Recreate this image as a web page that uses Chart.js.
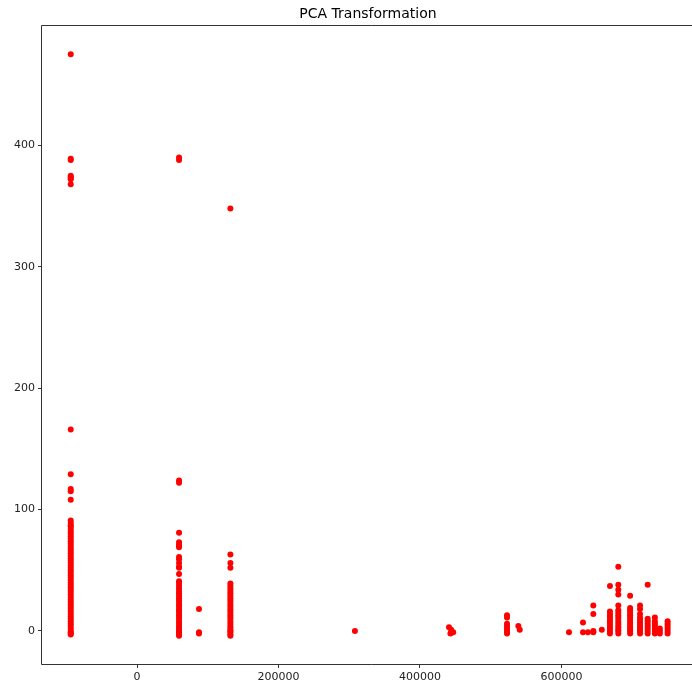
<!DOCTYPE html>
<html>
<head>
<meta charset="utf-8">
<script src="https://cdn.jsdelivr.net/npm/chart.js@4/dist/chart.umd.min.js"></script>
<style>
  html, body { margin: 0; padding: 0; background: #fff; overflow: hidden; }
  #wrap { width: 700px; height: 684px; }
</style>
</head>
<body>
<div id="wrap"><canvas id="pcaChart" width="700" height="684"></canvas></div>
<script>
// first component (x) and second component (y) of the transformed samples, grouped by column
var colA_x = -93700;
var colA_y = [475, 389, 388, 375, 374, 373, 372, 368, 166, 129, 117, 115, 108, 91, 89, 87, 86, 84, 82, 80,
    78, 76, 74, 72, 70, 68, 66, 64, 62, 60, 58, 56, 54, 52, 50, 48, 46, 44, 42, 40, 38, 36, 34, 32, 30,
    28, 26, 24, 22, 20, 18, 16, 14, 12, 10, 8, 6, 4, 2, 0, -1, -2, -3];
var colB_x = 59400;
var colB_y = [390, 388, 124, 122, 81, 73, 71, 70, 69, 61, 59, 56, 53, 52, 47, 41, 39, 37, 35, 33, 31, 29,
    27, 25, 23, 21, 19, 17, 15, 13, 11, 9, 7, 5, 3, 1, 0, -1, -3, -4];
var colC_x = 87600;
var colC_y = [18, -1, -2];
var colD_x = 132000;
var colD_y = [348, 63, 56, 52, 39, 37, 35, 33, 31, 29, 27, 25, 23, 21, 19, 17, 15, 13, 11, 9, 7, 5, 3, 1,
    0, -1, -3, -4];

// sparse points in the middle and right of the plot
var sparseX = [308000, 441000, 444000, 447000, 443000, 539000, 541000, 610600, 630400, 630400, 637400,
    645000, 645000, 645000, 645000, 657000];
var sparseY = [0, 3, 1, -1, -2, 4, 1, -1, 7, -1, -1, 21, 14, 0, -1, 1];

// right-hand columns: x position and the y values stacked on it
var rightCols_x = [523000, 668500, 680300, 697000, 711000, 721800, 732000, 739000, 750000];
var rightCols_y = [
    [13, 11, 6, 4, 2, 0, -1, -2],
    [37, 16, 14, 12, 10, 8, 6, 4, 2, 0, -2],
    [53, 38, 34, 30, 21, 17, 15, 13, 11, 9, 7, 5, 3, 1, 0, -2],
    [29, 19, 17, 15, 13, 11, 9, 7, 5, 3, 1, 0, -2],
    [21, 18, 14, 11, 9, 7, 5, 3, 1, 0, -2],
    [38, 10, 8, 6, 4, 2, 0, -2],
    [11, 8, 6, 4, 2, 0, -2],
    [2, 0, -2],
    [8, 6, 4, 2, 0, -2]
];

var xTicks = [0, 200000, 400000, 600000];
var yTicks = [0, 100, 200, 300, 400];
var xRange = [-134300, 787300];
var yRange = [-27.2, 499.1];

function column(x, ys) {
    return ys.map(function (y) { return { x: x, y: y }; });
}

var points = []
    .concat(column(colA_x, colA_y))
    .concat(column(colB_x, colB_y))
    .concat(column(colC_x, colC_y))
    .concat(column(colD_x, colD_y));
sparseX.forEach(function (x, i) { points.push({ x: x, y: sparseY[i] }); });
rightCols_x.forEach(function (x, i) { points = points.concat(column(x, rightCols_y[i])); });

var axisColor = '#333';
var fontFamily = '"DejaVu Sans", sans-serif';

// left, top and bottom spines plus the title centred over the plot area
var framePlugin = {
    id: 'frame',
    afterDraw: function (chart) {
        var ctx = chart.ctx, a = chart.chartArea;
        var l = Math.round(a.left) - 0.5, t = Math.round(a.top) + 0.5, b = Math.round(a.bottom) + 0.5;
        ctx.save();
        ctx.strokeStyle = axisColor;
        ctx.lineWidth = 1;
        ctx.beginPath();
        ctx.moveTo(a.right + 10, t);
        ctx.lineTo(l, t);
        ctx.lineTo(l, b);
        ctx.lineTo(a.right + 10, b);
        ctx.stroke();
        ctx.fillStyle = '#000';
        ctx.font = '14px ' + fontFamily;
        ctx.textAlign = 'center';
        ctx.textBaseline = 'middle';
        ctx.fillText('PCA Transformation', (a.left + a.right) / 2, 14);
        ctx.restore();
    }
};

function fixedTicks(values) {
    return function (scale) {
        scale.ticks = values.map(function (v) { return { value: v }; });
    };
}

new Chart(document.getElementById('pcaChart'), {
    type: 'scatter',
    data: {
        datasets: [{
            data: points,
            backgroundColor: '#ff0000',
            borderWidth: 0,
            pointRadius: 3,
            pointHoverRadius: 3
        }]
    },
    options: {
        responsive: false,
        animation: false,
        layout: { padding: { top: 25, right: 6, left: 0, bottom: 0 } },
        plugins: { legend: { display: false }, title: { display: false }, tooltip: { enabled: false } },
        scales: {
            x: {
                type: 'linear', min: xRange[0], max: xRange[1],
                afterBuildTicks: fixedTicks(xTicks),
                afterFit: function (scale) { scale.height = 20; },
                grid: { drawOnChartArea: false, drawTicks: true, tickLength: 4, color: axisColor },
                border: { display: false },
                ticks: {
                    autoSkip: false, maxRotation: 0, padding: 3, color: '#222',
                    font: { family: fontFamily, size: 11 },
                    callback: function (v) { return String(v); }
                }
            },
            y: {
                type: 'linear', min: yRange[0], max: yRange[1],
                afterBuildTicks: fixedTicks(yTicks),
                afterFit: function (scale) { scale.width = 42; },
                grid: { drawOnChartArea: false, drawTicks: true, tickLength: 4, color: axisColor },
                border: { display: false },
                ticks: {
                    autoSkip: false, padding: 3, color: '#222',
                    font: { family: fontFamily, size: 11 },
                    callback: function (v) { return String(v); }
                }
            }
        }
    },
    plugins: [framePlugin]
});
</script>
</body>
</html>
